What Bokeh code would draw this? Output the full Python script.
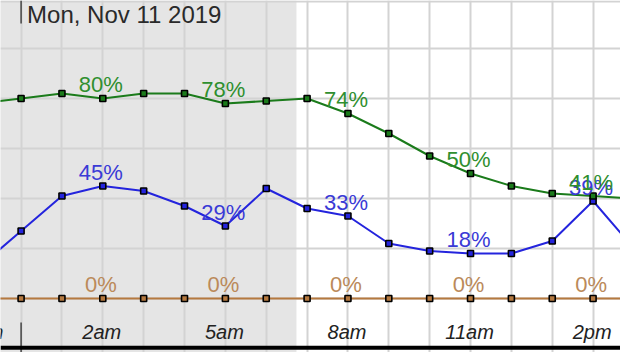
from bokeh.plotting import figure
from bokeh.models import Range1d, FixedTicker, Grid, BoxAnnotation, Span
from bokeh.core.properties import value
from bokeh.embed import file_html
from bokeh.resources import INLINE

# ---- data (hours since midnight, Mon Nov 11 2019) ----
hours = [-1, 0, 1, 2, 3, 4, 5, 6, 7, 8, 9, 10, 11, 12, 13, 14, 15]
humidity = [78, 80, 82, 80, 82, 82, 78, 79, 80, 74, 66, 57, 50, 45, 42, 41, 40]
sky_cover = [13, 27, 41, 45, 43, 37, 29, 44, 36, 33, 22, 19, 18, 18, 23, 39, 20]
precip = [0, 0, 0, 0, 0, 0, 0, 0, 0, 0, 0, 0, 0, 0, 0, 0, 0]
tick_hours = [-1, 2, 5, 8, 11, 14]
tick_labels = ["11pm", "2am", "5am", "8am", "11am", "2pm"]
value_label_hours = [2, 5, 8, 11, 14]
date_label = "Mon, Nov 11 2019"
day_start = 0
night_start = -3
sunrise = 6.74
pct_ticks = [0, 20, 40, 60, 80, 100, 119]

# ---- layout ----
W, H = 620, 352
PX_PER_HOUR = 40.857
X0_PX = 20.6
PX_PER_PCT = 2.5
ZERO_PX = 298.0
x_start = -X0_PX / PX_PER_HOUR
x_end = (W - X0_PX) / PX_PER_HOUR
y_end = ZERO_PX / PX_PER_PCT
y_start = -(H - ZERO_PX) / PX_PER_PCT

def ypx(py):
    return y_end - py / PX_PER_PCT

p = figure(width=W, height=H, output_backend="svg", toolbar_location=None,
           x_range=Range1d(x_start, x_end), y_range=Range1d(y_start, y_end),
           x_axis_location=None, y_axis_location=None, min_border=0)
p.outline_line_color = None
p.background_fill_color = "white"
p.border_fill_color = "white"
p.grid.visible = False

p.add_layout(BoxAnnotation(left=night_start, right=sunrise, level="image",
                           fill_color="#e5e5e5", fill_alpha=1.0, line_alpha=0))

xg = Grid(dimension=0, ticker=FixedTicker(ticks=hours), grid_line_color="#d3d3d3",
          grid_line_width=2)
yg = Grid(dimension=1, ticker=FixedTicker(ticks=pct_ticks), grid_line_color="#d3d3d3",
          grid_line_width=2)
p.add_layout(xg, "center")
p.add_layout(yg, "center")

label_idx = [hours.index(h) for h in value_label_hours]

series = [
    (precip, "#b5793f", "#bb8a5a"),
    (sky_cover, "#2424dd", "#3a3ad6"),
    (humidity, "#1b7b1b", "#2f8f2f"),
]
for vals, lc, tc in series:
    p.line(hours, vals, line_color=lc, line_width=2)
    p.scatter(hours, vals, marker="square", size=6, fill_color=lc,
              line_color="black", line_width=1.6)
for vals, lc, tc in series:
    p.text([hours[i] for i in label_idx], [vals[i] for i in label_idx],
           text=[f"{vals[i]}%" for i in label_idx], text_color=tc,
           text_font=value("Liberation Sans"), text_font_size="22px",
           text_align="center", text_baseline="alphabetic",
           x_offset=-2, y_offset=-14)

# bottom axis labels
p.text(tick_hours, [ypx(339.5)] * len(tick_hours), text=tick_labels,
       text_color="#222222", text_font=value("Liberation Sans"),
       text_font_size="20px", text_font_style="italic",
       text_align="center", text_baseline="alphabetic", x_offset=-1, y_offset=-8)

# day divider
p.segment(x0=[day_start, day_start], y0=[y_end, ypx(322)],
          x1=[day_start, day_start], y1=[ypx(23), y_start],
          line_color="#444444", line_width=1.5)

# date label
p.text([day_start], [y_end], text=[date_label], text_color="#2a2a2a",
       text_font=value("Liberation Sans"), text_font_size="24px",
       text_align="left", text_baseline="alphabetic", x_offset=6, y_offset=14)

# thick bottom line
p.add_layout(Span(location=ypx(347.3), dimension="width", line_color="black",
                  line_width=4))

open("out.html", "w").write(file_html(p, INLINE))
